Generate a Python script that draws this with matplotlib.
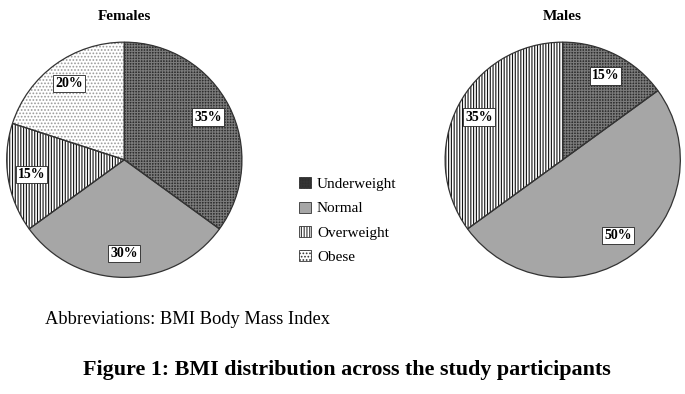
import matplotlib.pyplot as plt
from matplotlib.patches import Patch

categories = ['Underweight', 'Normal', 'Overweight', 'Obese']
females = [35, 30, 15, 20]
males = [15, 50, 35, 0]

face = {'Underweight': '#2e2e2e', 'Normal': '#a6a6a6', 'Overweight': 'white', 'Obese': 'white'}
hatch = {'Underweight': '++++++', 'Normal': '', 'Overweight': '||||||', 'Obese': '.....'}
hcol = {'Underweight': '#7a7a7a', 'Normal': '#a6a6a6', 'Overweight': '#111111', 'Obese': '#9a9a9a'}

plt.rcParams['font.family'] = ['Liberation Serif', 'DejaVu Serif']
plt.rcParams['hatch.linewidth'] = 0.8

fig = plt.figure(figsize=(6.85, 3.94), dpi=100)


def draw_pie(rect, values, title):
    ax = fig.add_axes(rect)
    labels = [c for c, v in zip(categories, values) if v > 0]
    vals = [v for v in values if v > 0]
    wedges, _ = ax.pie(vals, startangle=90, counterclock=False, radius=1)
    for w, c in zip(wedges, labels):
        w.set_facecolor(face[c])
        w.set_hatch(hatch[c])
        w.set_edgecolor(hcol[c])
        w.set_linewidth(0)
    # outlines on top
    outl, _, texts = ax.pie(vals, startangle=90, counterclock=False, radius=1,
                            autopct='%d%%', pctdistance=0.8,
                            wedgeprops=dict(fill=False, edgecolor='#333333', linewidth=0.9))
    for t in texts:
        t.set_fontsize(10)
        t.set_fontweight('bold')
        t.set_bbox(dict(facecolor='white', edgecolor='#222222', linewidth=0.6, pad=1.5))
    ax.set_xlim(-1.01, 1.01)
    ax.set_ylim(-1.01, 1.01)
    ax.set_aspect('equal')
    cx = rect[0] + rect[2] / 2
    fig.text(cx, 0.958, title, fontsize=11, fontweight='bold', ha='center', va='center')


draw_pie([0.008, 0.293, 0.347, 0.603], females, 'Females')
draw_pie([0.648, 0.293, 0.347, 0.603], males, 'Males')

handles = [Patch(facecolor=face[c], edgecolor=hcol[c], hatch=hatch[c], linewidth=0) for c in categories]
leg = fig.legend(handles, categories, loc='center left', bbox_to_anchor=(0.417, 0.44),
                 frameon=False, fontsize=11, handlelength=0.75, handleheight=0.75,
                 labelspacing=0.68, handletextpad=0.4)
for p in leg.get_patches():
    p.set_edgecolor('#333333')
    p.set_linewidth(0.6)

fig.text(0.066, 0.188, 'Abbreviations: BMI Body Mass Index', fontsize=13.3, va='center')
fig.text(0.507, 0.06, 'Figure 1: BMI distribution across the study participants',
         fontsize=15.8, fontweight='bold', ha='center', va='center')

fig.savefig('out.png', dpi=100)
